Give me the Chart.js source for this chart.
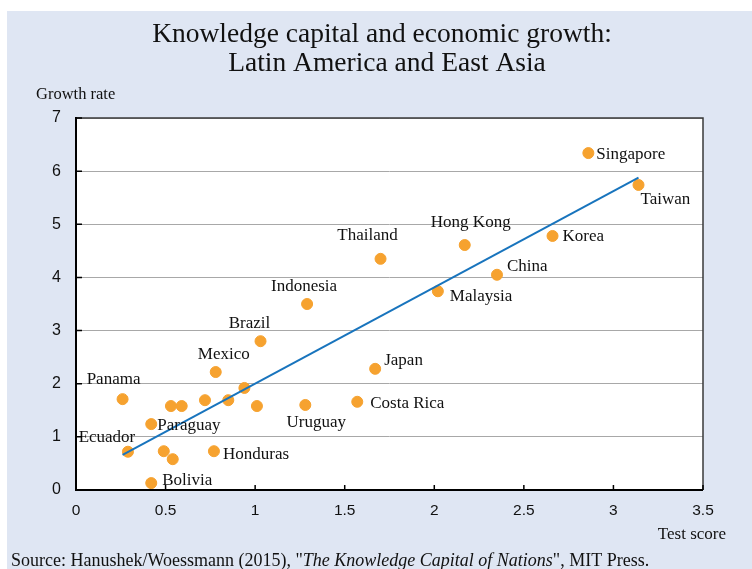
<!DOCTYPE html>
<html>
<head>
<meta charset="utf-8">
<script src="https://cdn.jsdelivr.net/npm/chart.js@4.4.1/dist/chart.umd.min.js"></script>
<style>
  html, body { margin: 0; padding: 0; background: #ffffff; }
  canvas { display: block; }
</style>
</head>
<body>
<canvas id="knowledgeChart" width="752" height="569"></canvas>
<script>
// Laender (leere Namen = Punkte ohne Beschriftung)
var countries = ['Singapore', 'Taiwan', 'Korea', 'Hong Kong', 'China', 'Malaysia', 'Thailand',
  'Indonesia', 'Brazil', 'Mexico', 'Japan', 'Costa Rica', 'Uruguay', 'Panama', 'Paraguay',
  'Ecuador', 'Bolivia', 'Honduras', '', '', '', '', '', '', '', ''];
var testScore = [2.86, 3.14, 2.66, 2.17, 2.35, 2.02, 1.70,
  1.29, 1.03, 0.78, 1.67, 1.57, 1.28, 0.26, 0.42,
  0.29, 0.42, 0.77, 0.53, 0.59, 0.72, 0.85, 0.94, 1.01, 0.49, 0.54];
var growthRate = [6.34, 5.74, 4.78, 4.61, 4.05, 3.74, 4.35,
  3.50, 2.80, 2.22, 2.28, 1.66, 1.60, 1.71, 1.24,
  0.72, 0.13, 0.73, 1.58, 1.58, 1.69, 1.69, 1.92, 1.58, 0.73, 0.58];

var trendX = [0.26, 3.14];
var trendY = [0.66, 5.88];

// Achsen
var xTicks = [0, 0.5, 1, 1.5, 2, 2.5, 3, 3.5];
var xTickLabels = ['0', '0.5', '1', '1.5', '2', '2.5', '3', '3.5'];
var yTicks = [0, 1, 2, 3, 4, 5, 6, 7];
var yTickLabels = ['0', '1', '2', '3', '4', '5', '6', '7'];

// Beschriftungspositionen relativ zum Punkt: [Ausrichtung, dx, dy]
var labelPlacement = {
  'Singapore': ['left', 8, 1], 'Taiwan': ['left', 2, 15], 'Korea': ['left', 10, 1],
  'Hong Kong': ['center', 6, -22], 'China': ['left', 10, -8], 'Malaysia': ['left', 12, 5],
  'Thailand': ['center', -13, -23], 'Indonesia': ['center', -3, -17], 'Brazil': ['center', -11, -18],
  'Mexico': ['center', 8, -17], 'Japan': ['left', 9, -8], 'Costa Rica': ['left', 13, 2],
  'Uruguay': ['center', 11, 18], 'Panama': ['center', -9, -20], 'Paraguay': ['left', 6, 1],
  'Ecuador': ['center', -21, -14], 'Bolivia': ['left', 11, -3], 'Honduras': ['left', 9, 3]
};

var serif = "'Liberation Serif', 'Times New Roman', serif";
var sans = "'Liberation Sans', Arial, sans-serif";

var decorPlugin = {
  id: 'decor',
  beforeDraw: function(chart) {
    var c = chart.ctx;
    c.save();
    c.fillStyle = '#ffffff';
    c.fillRect(0, 0, chart.width, chart.height);
    c.fillStyle = '#dfe6f3';
    c.fillRect(7, 11, chart.width - 7, chart.height - 11);
    var a = chart.chartArea;
    c.fillStyle = '#ffffff';
    c.fillRect(a.left, a.top, a.right - a.left, a.bottom - a.top);
    c.restore();
  },
  afterDatasetsDraw: function(chart) {
    var c = chart.ctx;
    var meta = chart.getDatasetMeta(1);
    c.save();
    c.font = '17px ' + serif;
    c.fillStyle = '#111111';
    c.textBaseline = 'middle';
    meta.data.forEach(function(pt, i) {
      var name = countries[i];
      if (!name) return;
      var p = labelPlacement[name];
      c.textAlign = p[0];
      c.fillText(name, pt.x + p[1], pt.y + p[2]);
    });
    c.restore();
  },
  afterDraw: function(chart) {
    var c = chart.ctx;
    var a = chart.chartArea;
    var xs = chart.scales.x, ys = chart.scales.y;
    c.save();
    // Rahmen oben und rechts
    c.strokeStyle = '#3a3a3a';
    c.lineWidth = 1.5;
    c.beginPath();
    c.moveTo(a.left, a.top);
    c.lineTo(a.right, a.top);
    c.lineTo(a.right, a.bottom);
    c.stroke();
    // Achsen links und unten
    c.strokeStyle = '#000000';
    c.lineWidth = 2;
    c.beginPath();
    c.moveTo(a.left, a.top - 1);
    c.lineTo(a.left, a.bottom);
    c.lineTo(a.right, a.bottom);
    c.stroke();
    // Tickmarken nach innen
    c.lineWidth = 1.5;
    c.beginPath();
    xTicks.forEach(function(v) {
      var px = xs.getPixelForValue(v);
      c.moveTo(px, a.bottom);
      c.lineTo(px, a.bottom - 5);
    });
    yTicks.forEach(function(v) {
      var py = ys.getPixelForValue(v);
      c.moveTo(a.left, py);
      c.lineTo(a.left + 6, py);
    });
    c.stroke();

    // Achsenbeschriftung
    c.fillStyle = '#111111';
    c.textBaseline = 'middle';
    c.font = '15.5px ' + sans;
    c.textAlign = 'center';
    xTicks.forEach(function(v, i) {
      c.fillText(xTickLabels[i], xs.getPixelForValue(v), a.bottom + 21);
    });
    c.font = '16px ' + sans;
    c.textAlign = 'right';
    yTicks.forEach(function(v, i) {
      c.fillText(yTickLabels[i], a.left - 15, ys.getPixelForValue(v));
    });

    // Texte
    c.textBaseline = 'alphabetic';
    c.textAlign = 'center';
    c.font = '27.5px ' + serif;
    c.fillText('Knowledge capital and economic growth:', 382, 42);
    c.fillText('Latin America and East Asia', 387, 71);
    c.font = '16.5px ' + serif;
    c.textAlign = 'left';
    c.fillText('Growth rate', 36, 99);
    c.font = '17px ' + serif;
    c.textAlign = 'right';
    c.fillText('Test score', 726, 539);
    // Quelle
    c.textAlign = 'left';
    var x = 11, y = 566;
    var parts = [
      ['Source: Hanushek/Woessmann (2015), "', ''],
      ['The Knowledge Capital of Nations', 'italic '],
      ['", MIT Press.', '']
    ];
    parts.forEach(function(p) {
      c.font = p[1] + '18px ' + serif;
      c.fillText(p[0], x, y);
      x += c.measureText(p[0]).width;
    });
    c.restore();
  }
};

var scatterData = testScore.map(function(v, i) { return { x: v, y: growthRate[i] }; });
var trendData = trendX.map(function(v, i) { return { x: v, y: trendY[i] }; });

var ctx = document.getElementById('knowledgeChart').getContext('2d');
var knowledgeChart = new Chart(ctx, {
  type: 'scatter',
  data: {
    datasets: [{
      type: 'line',
      data: trendData,
      borderColor: '#1874bd',
      borderWidth: 2,
      pointRadius: 0,
      fill: false
    }, {
      data: scatterData,
      backgroundColor: '#f6a22f',
      borderColor: '#f6a22f',
      pointRadius: 5.5,
      pointHoverRadius: 5.5
    }]
  },
  options: {
    responsive: false,
    animation: false,
    events: [],
    layout: { padding: { top: 118, right: 49, left: 0, bottom: 0 } },
    plugins: { legend: { display: false }, tooltip: { enabled: false } },
    scales: {
      x: {
        type: 'linear',
        min: 0, max: 3.5,
        afterFit: function(s) { s.height = 79; },
        afterBuildTicks: function(s) { s.ticks = xTicks.map(function(v) { return { value: v }; }); },
        grid: { display: false, drawTicks: false },
        border: { display: false },
        ticks: { display: false }
      },
      y: {
        min: 0, max: 7,
        afterFit: function(s) { s.width = 76; },
        afterBuildTicks: function(s) { s.ticks = yTicks.map(function(v) { return { value: v }; }); },
        grid: { color: '#a8a8a8', lineWidth: 1, drawTicks: false },
        border: { display: false },
        ticks: { display: false }
      }
    }
  },
  plugins: [decorPlugin]
});
</script>
</body>
</html>
